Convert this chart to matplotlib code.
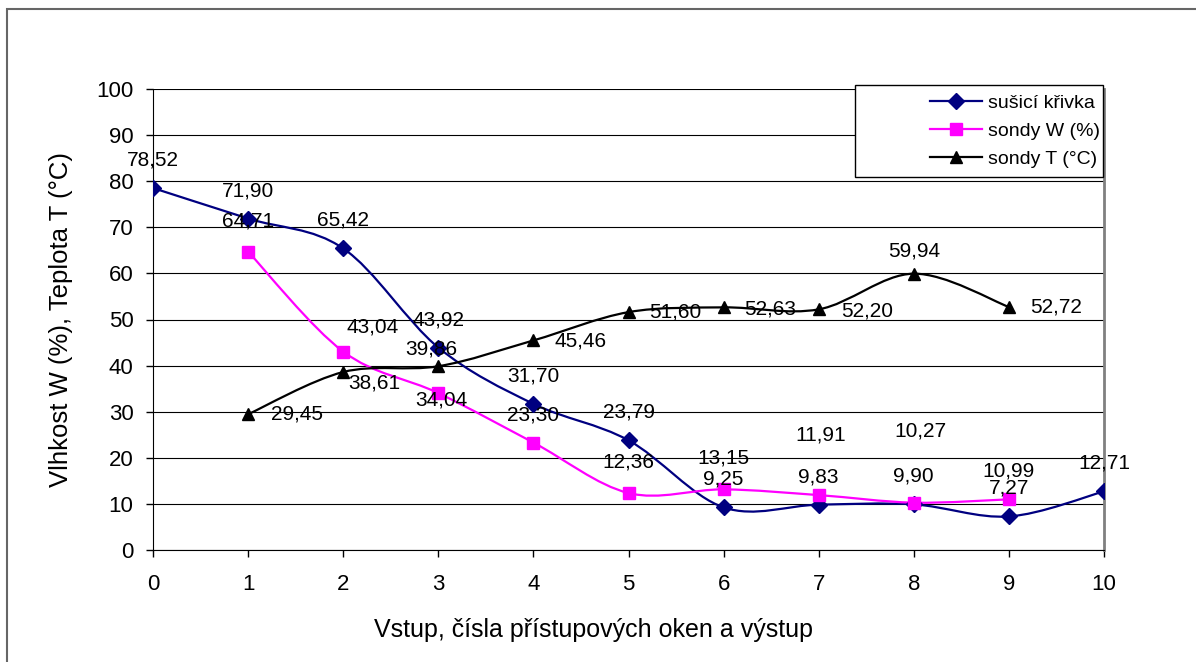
import matplotlib
matplotlib.use("Agg")
import matplotlib.pyplot as plt
from matplotlib.path import Path
from matplotlib.patches import PathPatch, Rectangle
from matplotlib.lines import Line2D

plt.rcParams['font.family'] = ['Liberation Sans', 'DejaVu Sans']

# data
x_curve = [0, 1, 2, 3, 4, 5, 6, 7, 8, 9, 10]
w_curve = [78.52, 71.90, 65.42, 43.92, 31.70, 23.79, 9.25, 9.83, 9.90, 7.27, 12.71]

x_probe = [1, 2, 3, 4, 5, 6, 7, 8, 9]
w_probe = [64.71, 43.04, 34.04, 23.30, 12.36, 13.15, 11.91, 10.27, 10.99]
t_probe = [29.45, 38.61, 39.86, 45.46, 51.60, 52.63, 52.20, 59.94, 52.72]

names = ["sušicí křivka", "sondy W (%)", "sondy T (°C)"]

# label offsets in pixels (dx, dy)
off_curve = [(0, 28)] * 11
off_w = [(0, 31), (29, 25), (3, -7), (0, 28), (0, 31), (0, 31), (2, 60), (7, 72), (0, 28)]
off_t = [(49, 0), (31, -11), (-7, 17), (47, -1), (47, 0), (47, -2), (48, -2), (0, 23), (47, 0)]


def smooth_path(xs, ys):
    # Excel-like smoothed line: cubic bezier through points
    pts = list(zip(xs, ys))
    verts = [pts[0]]
    codes = [Path.MOVETO]
    n = len(pts)
    for i in range(n - 1):
        p0 = pts[i - 1] if i > 0 else pts[i]
        p1 = pts[i]
        p2 = pts[i + 1]
        p3 = pts[i + 2] if i + 2 < n else pts[i + 1]
        c1 = (p1[0] + (p2[0] - p0[0]) / 6, p1[1] + (p2[1] - p0[1]) / 6)
        c2 = (p2[0] - (p3[0] - p1[0]) / 6, p2[1] - (p3[1] - p1[1]) / 6)
        verts += [c1, c2, p2]
        codes += [Path.CURVE4] * 3
    return Path(verts, codes)


fig = plt.figure(figsize=(11.96, 6.62), dpi=100)
ax = fig.add_axes([153 / 1196, 1 - 550 / 662, (1104 - 153) / 1196, (550 - 89) / 662])

series = [
    (x_curve, w_curve, '#000080', 'D', 8, off_curve),
    (x_probe, w_probe, '#FF00FF', 's', 9, off_w),
    (x_probe, t_probe, 'black', '^', 9, off_t),
]

handles = []
for (xs, ys, col, mk, ms, offs), name in zip(series, names):
    ax.add_patch(PathPatch(smooth_path(xs, ys), fill=False, edgecolor=col, lw=1.6, zorder=3))
    ax.plot(xs, ys, ls='none', marker=mk, ms=ms, color=col, zorder=4)
    for xv, yv, (dx, dy) in zip(xs, ys, offs):
        ax.annotate(f"{yv:.2f}".replace('.', ','), (xv, yv), xytext=(dx, dy),
                    textcoords='offset pixels', ha='center', va='center',
                    fontsize=15, zorder=5)
    handles.append(Line2D([], [], color=col, lw=1.6, marker=mk, ms=ms))

ax.set_xlim(0, 10)
ax.set_ylim(0, 100)
ax.set_xticks(range(0, 11))
ax.set_yticks(range(0, 101, 10))
ax.tick_params(labelsize=16, direction='out', length=5, width=1, pad=9)
ax.tick_params(axis='x', pad=12.5)
ax.yaxis.grid(True, color='black', lw=0.8)
ax.set_axisbelow(True)
ax.spines['top'].set_visible(False)
ax.spines['right'].set_color('#808080')
ax.spines['right'].set_linewidth(2)

ax.set_xlabel("Vstup, čísla přístupových oken a výstup", fontsize=18)
ax.xaxis.set_label_coords((593 - 153) / 951, -0.148)
ax.set_ylabel("Vlhkost W (%), Teplota T (°C)", fontsize=18.5, labelpad=17)

# legend frame drawn separately (Excel box wider than its content)
fig.patches.append(Rectangle((855 / 1196, 1 - 177 / 662), 248 / 1196, 92 / 662,
                             transform=fig.transFigure, facecolor='white',
                             edgecolor='black', lw=1, zorder=9))
leg = fig.legend(handles, names, loc='center right',
                 bbox_to_anchor=(1100 / 1196, 1 - 131 / 662),
                 fontsize=14, frameon=False, handlelength=2.7,
                 handletextpad=0.3, borderpad=0, borderaxespad=0,
                 labelspacing=0.55)
leg.set_zorder(10)

# outer chart border
fig.patches.append(Rectangle((7 / 1196, -0.05), 1.1, 1 - 9 / 662 + 0.05,
                             transform=fig.transFigure, fill=False,
                             edgecolor='#666666', lw=1.5))

fig.savefig("out.png", dpi=100)
